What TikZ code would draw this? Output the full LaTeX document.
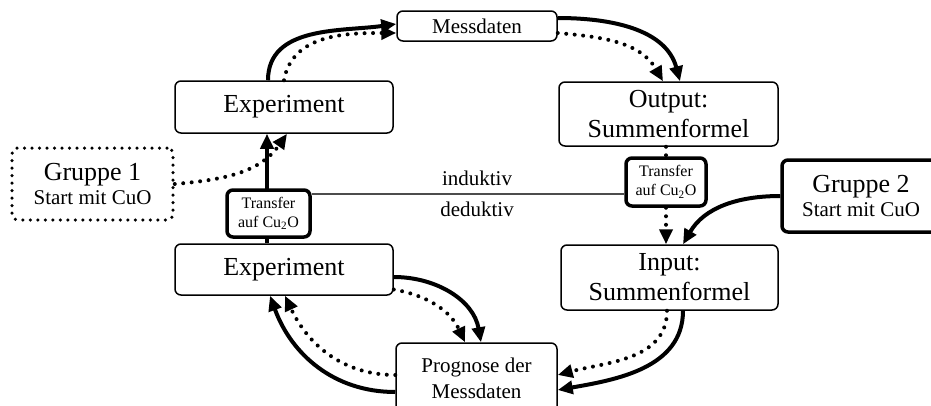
\documentclass[tikz,border=0pt]{standalone}
\usepackage{fontspec}
\setmainfont{Liberation Serif}
\usetikzlibrary{arrows.meta}
\newcommand\fbig{\fontsize{26}{30}\selectfont}
\newcommand\fmid{\fontsize{21}{26}\selectfont}
\newcommand\fsml{\fontsize{16}{19}\selectfont}
\begin{document}
\begin{tikzpicture}[x=1pt,y=1pt,
  box/.style={draw, fill=white, rounded corners=6pt, line width=1.5pt, inner sep=0pt, align=center},
  thickbox/.style={box, line width=3.5pt},
  dotbox/.style={box, line width=3.5pt, line cap=round, dash pattern=on 0pt off 7.5pt},
  big/.style={font=\fbig},
  mid/.style={font=\fmid},
  sml/.style={font=\fsml},
  tip/.style={-{Triangle[length=15pt,width=13pt]}},
  solidarrow/.style={line width=4pt, tip},
  dotline/.style={line width=4pt, line cap=round, dash pattern=on 0pt off 8.5pt},
  dotarrow/.style={dotline, tip},
  axis/.style={line width=2.2pt, draw=black!70},
]
\useasboundingbox (0,0) rectangle (931,-405);

% boxes of the cycle
\node[box, mid, minimum width=160pt, minimum height=30pt] (md) at (477,-26) {Messdaten};
\node[box, big, minimum width=218pt, minimum height=52pt] (ea) at (284,-107) {Experiment};
\node[box, big, minimum width=219pt, minimum height=64pt] (out) at (668.5,-114) {Output:\\Summenformel};
\node[box, big, minimum width=218pt, minimum height=51pt] (eb) at (284,-269.5) {Experiment};
\node[box, big, minimum width=217pt, minimum height=65pt] (in) at (669.5,-277.5) {Input:\\Summenformel};
\node[box, mid, minimum width=161pt, minimum height=70pt] (pg) at (476.5,-378) {Prognose der\\Messdaten};

% group 1 climbs from the lower to the upper experiment
\draw[solidarrow] ([xshift=-17pt]eb.north) -- ([xshift=-17pt]ea.south);

% transfer boxes and group start boxes
\node[thickbox, sml, minimum width=83pt, minimum height=47pt] (tl) at (268.5,-213.5) {Transfer\\auf Cu\textsubscript{2}O};
\node[thickbox, sml, minimum width=80pt, minimum height=48pt] (tr) at (666,-182) {Transfer\\auf Cu\textsubscript{2}O};
\node[dotbox, minimum width=161pt, minimum height=72pt] (g1) at (92.5,-184) {{\fbig Gruppe 1}\\[3pt]{\fmid Start mit CuO}};
\node[thickbox, minimum width=158pt, minimum height=72pt] (g2) at (861,-196) {{\fbig Gruppe 2}\\[3pt]{\fmid Start mit CuO}};

% dividing line between inductive and deductive half
\draw[axis] ([yshift=19.5pt]tl.east) -- ([yshift=19.5pt]tl.east -| tr.west);
\node[mid] (ind) at (477,-178) {induktiv};
\node[mid] (ded) at (477,-209.5) {deduktiv};

% group 1 entry
\draw[dotarrow] (g1.east) to[out=5,in=-125] ([xshift=3pt]ea.south);

% upper (inductive) loop
\draw[solidarrow] ([xshift=-16pt]ea.north) to[out=90,in=188] ([yshift=2pt]md.west);
\draw[dotarrow] (ea.north) to[out=80,in=180] ([yshift=-7pt]md.west);
\draw[solidarrow] ([yshift=8pt]md.east) to[out=0,in=105] ([xshift=11.5pt]out.north);
\draw[dotarrow] ([yshift=-7pt]md.east) to[out=-5,in=120] ([xshift=-5.5pt]out.north);

% transfer on the right side
\draw[dotline] (tr.north |- out.south) -- (tr.north);
\draw[dotarrow] (tr.south) -- (tr.south |- in.north);
\draw[solidarrow] (g2.west) to[out=180,in=60] ([xshift=13.5pt]in.north);

% lower (deductive) loop
\draw[solidarrow] ([xshift=13.5pt]in.south) to[out=-90,in=10] ([yshift=-12pt]pg.east);
\draw[dotarrow] ([xshift=-2.5pt]in.south) to[out=-90,in=15] ([yshift=3pt]pg.east);
\draw[solidarrow] ([yshift=-7.5pt]eb.east) to[out=0,in=100] ([xshift=4.5pt]pg.north);
\draw[dotarrow] ([yshift=-20pt]eb.east) to[out=-10,in=115] ([xshift=-11.5pt]pg.north);
\draw[solidarrow] ([yshift=-14pt]pg.west) to[out=180,in=-70] ([xshift=-14pt]eb.south);
\draw[dotarrow] ([yshift=3pt]pg.west) to[out=180,in=-65] ([xshift=1pt]eb.south);
\end{tikzpicture}
\end{document}
